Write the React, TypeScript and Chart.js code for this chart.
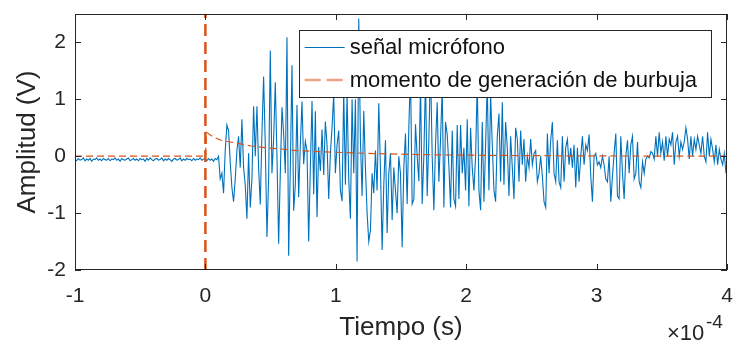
import React, { useEffect, useRef } from 'react';
import { Chart, registerables } from 'chart.js';

Chart.register(...registerables);

// time axis in units of 1e-4 s
const sampleStart = -1;
const sampleStep = 0.0128;

const preTriggerSignal = [
  -0.05, -0.08, -0.04, -0.07, -0.06, -0.03, -0.08, -0.05, -0.07, -0.04,
  -0.09, -0.05, -0.06, -0.03, -0.07, -0.05, -0.08, -0.04, -0.06, -0.07,
  -0.04, -0.08, -0.05, -0.06, -0.03, -0.07, -0.05, -0.09, -0.04, -0.06,
  -0.07, -0.05, -0.03, -0.08, -0.06, -0.04, -0.07, -0.05, -0.08, -0.04,
  -0.06, -0.05, -0.09, -0.04, -0.07, -0.03, -0.06, -0.08, -0.05, -0.04,
  -0.07, -0.06, -0.03, -0.08, -0.05, -0.07, -0.04, -0.06, -0.09, -0.05,
  -0.04, -0.07, -0.06, -0.03, -0.08, -0.05, -0.07, -0.04, -0.06, -0.05,
  -0.08, -0.04, -0.07, -0.05, -0.06, -0.03, -0.07, -0.05,
];

const postTriggerSignal = [
  -0.05, -0.08, -0.04, -0.07, -0.05, -0.09, -0.04, -0.06, 0.0, -0.4,
  -0.3, -0.65, 0.1, 0.55, 0.45, -0.1, -0.55, -0.8, -0.4, 0.1,
  0.35, -0.2, 0.65, -0.2, -0.5, -1.1, 0.05, -0.9, -0.4, 0.88,
  0.0, 0.88, -0.2, -0.85, 0.4, 1.4, 0.2, -1.42, -0.4, 1.86,
  -0.3, 0.3, 1.3, 0.0, -1.54, -0.3, 0.86, 0.4, -0.3, 2.09,
  -1.75, -0.2, 1.6, -0.96, -0.5, 0.9, -0.72, 0.2, 0.96, -0.14,
  0.26, 0.1, -1.5, -0.2, 0.97, -0.67, 0.79, -1.07, 0.16, -0.26,
  0.47, -0.33, 0.61, 0.2, -0.75, 0.05, 0.5, 1.09, -0.3, 0.2,
  0.45, -0.6, -0.79, 1.15, -0.5, 1.1, -0.4, -1.1, 1.0, -0.3,
  1.0, -1.85, 2.42, 0.3, -0.7, 0.8, -0.2, -1.0, -1.5, -1.3,
  -0.3, -0.65, 0.1, -0.6, 0.93, -0.2, -1.65, -0.5, 0.28, -1.35,
  -0.3, 0.05, -1.12, -0.2, -0.6, -1.0, 0.0, -0.3, -1.6, -0.2,
  0.4, -0.84, 0.5, 1.5, -0.84, -0.76, 0.56, 0.0, -0.44, 1.3,
  -0.84, 0.0, 1.4, -0.7, 0.3, 1.6, 0.0, -0.95, 0.2, 0.95,
  -0.45, 0.3, 1.2, -0.9, 0.6, 0.38, -0.17, -0.9, 0.45, -0.75,
  -0.88, 0.55, -0.75, 0.55, -0.3, 0.15, -0.6, 0.65, -0.88, 0.5,
  -0.2, -0.6, 0.0, 1.3, -0.6, -0.95, 0.6, -0.8, 0.2, 1.3,
  -0.6, 1.1, 0.2, -0.6, -0.8, 0.35, 0.75, -0.45, 0.95, -0.5,
  0.6, 0.15, -0.7, 0.35, -0.2, -0.75, 0.5, 0.3, -0.45, 0.45,
  -0.15, 0.3, -0.45, 0.0, -0.2, 0.3, -0.15, 0.05, 0.1, -0.45,
  -0.3, 0, -0.35, -0.8, -0.9, 0.4, -0.3, 0.28, 0.6, -0.3,
  -0.45, 0.28, -0.45, -0.55, 0.35, -0.45, 0.15, 0.3, -0.15, 0.15,
  -0.2, 0.2, -0.55, 0.15, -0.45, 0, 0.35, -0.15, 0.2, 0.1,
  0.38, -0.35, -0.8, 0, 0.05, -0.15, -0.1, -0.2, 0, -0.15,
  -0.4, -0.45, 0, -0.8, -0.35, 0.05, 0.4, -0.7, -0.75, 0.35,
  -0.3, -0.75, 0, 0.28, -0.3, 0.2, 0.35, -0.4,
  -0.3, 0.25, -0.45, -0.55, -0.1, -0.3, -0.05, 0, -0.03, 0.08,
  0.05, -0.05, 0.35, 0, 0.42, 0.05, 0.25, -0.08, 0.35, 0,
  0.3, 0.2, 0.42, -0.15, 0.25, 0.35, 0, 0.25, 0.12, 0.25,
  0.5, 0.3, -0.05, 0.35, 0, 0.3, 0.12, 0.35, 0.2, 0.05,
  0.35, 0, -0.1, 0.42, 0, 0.3, 0.12, -0.1, 0.2, -0.15,
  0.12, -0.05, -0.15, 0.05, -0.3, 0.1, 0.25,
];

const bubbleTime = [-1, 0, 0.01, 0.06, 0.12, 0.24, 0.35, 0.46, 0.56, 0.7, 0.87, 1.05, 1.25, 1.6, 1.93, 2.5, 3, 4];
const bubbleValue = [0, 0, 0.42, 0.34, 0.28, 0.23, 0.18, 0.15, 0.13, 0.1, 0.08, 0.065, 0.05, 0.03, 0.02, 0.01, 0.005, 0];

const markerTime = [0, 0];
const markerValue = [-2, 2.5];

const xTicks = [-1, 0, 1, 2, 3, 4];
const yTicks = [-2, -1, 0, 1, 2];
const seriesLabels = ['señal micrófono', 'momento de generación de burbuja'];
const xTitle = 'Tiempo (s)';
const yTitle = 'Amplitud (V)';

const BLUE = '#0072BD';
const ORANGE = '#D95319';
const AXIS = '#262626';
const FONT = '"Liberation Sans", Arial, Helvetica, sans-serif';

const matlabPlugin = {
  id: 'matlabDecor',
  afterDraw(chart: any) {
    const { ctx, chartArea: a, scales } = chart;
    ctx.save();
    ctx.strokeStyle = AXIS;
    ctx.lineWidth = 1;
    ctx.setLineDash([]);
    const line = (x1: number, y1: number, x2: number, y2: number) => {
      ctx.beginPath();
      ctx.moveTo(x1, y1);
      ctx.lineTo(x2, y2);
      ctx.stroke();
    };
    const tl = 6;
    xTicks.forEach((v) => {
      const px = Math.round(scales.x.getPixelForValue(v)) + 0.5;
      line(px, a.bottom, px, a.bottom - tl);
      line(px, a.top, px, a.top + tl);
    });
    yTicks.forEach((v) => {
      const py = Math.round(scales.y.getPixelForValue(v)) + 0.5;
      line(a.left, py, a.left + tl, py);
      line(a.right, py, a.right - tl, py);
    });
    ctx.strokeRect(a.left + 0.5, a.top + 0.5, a.right - a.left - 1, a.bottom - a.top - 1);

    // exponent label
    ctx.fillStyle = AXIS;
    ctx.textBaseline = 'alphabetic';
    ctx.textAlign = 'left';
    ctx.font = `22px ${FONT}`;
    ctx.fillText('\u00d710', 667, 340);
    ctx.font = `19px ${FONT}`;
    ctx.fillText('-4', 706, 328);

    // legend
    ctx.font = `22px ${FONT}`;
    const tw = Math.max(...seriesLabels.map((s) => ctx.measureText(s).width));
    const w = 51 + tw + 14;
    const h = 67;
    const lx = a.right - 16 - w;
    const ly = a.top + 16;
    ctx.fillStyle = '#ffffff';
    ctx.fillRect(lx, ly, w, h);
    ctx.strokeStyle = AXIS;
    ctx.strokeRect(Math.round(lx) + 0.5, ly + 0.5, Math.round(w), h);
    const r1 = ly + 17;
    const r2 = ly + 50;
    ctx.strokeStyle = BLUE;
    ctx.lineWidth = 1.2;
    line(lx + 6, r1 + 0.5, lx + 46, r1 + 0.5);
    ctx.strokeStyle = '#EFA386';
    ctx.lineWidth = 2.5;
    ctx.setLineDash([16, 6]);
    line(lx + 6, r2, lx + 46, r2);
    ctx.setLineDash([]);
    ctx.fillStyle = '#111111';
    ctx.textBaseline = 'middle';
    ctx.fillText(seriesLabels[0], lx + 51, r1 + 1);
    ctx.fillText(seriesLabels[1], lx + 51, r2 + 1);
    ctx.restore();
  },
};

const fitX = (s: any) => {
  s.height = 75;
  s.paddingLeft = 0;
  s.paddingRight = 0;
  s.paddingTop = 0;
  s.paddingBottom = 0;
};
const fitY = (s: any) => {
  s.width = 75;
  s.paddingLeft = 0;
  s.paddingRight = 0;
  s.paddingTop = 0;
  s.paddingBottom = 0;
};

export default function App() {
  const ref = useRef<HTMLCanvasElement | null>(null);

  useEffect(() => {
    document.body.style.margin = '0';
    const canvas = ref.current;
    if (!canvas) return;
    const signalValue = [...preTriggerSignal, ...postTriggerSignal];
    const signalPoints = signalValue.map((v, i) => ({ x: sampleStart + i * sampleStep, y: v }));
    const bubblePoints = bubbleTime.map((t, i) => ({ x: t, y: bubbleValue[i] }));
    const markerPoints = markerTime.map((t, i) => ({ x: t, y: markerValue[i] }));

    const chart = new Chart(canvas, {
      type: 'scatter',
      data: {
        datasets: [
          {
            label: seriesLabels[1],
            data: markerPoints,
            showLine: true,
            borderColor: ORANGE,
            borderWidth: 2.5,
            borderDash: [12, 6],
            pointRadius: 0,
            order: 0,
          },
          {
            label: seriesLabels[1] + ' ',
            data: bubblePoints,
            showLine: true,
            borderColor: ORANGE,
            borderWidth: 1.2,
            borderDash: [7, 4],
            pointRadius: 0,
            order: 1,
          },
          {
            label: seriesLabels[0],
            data: signalPoints,
            showLine: true,
            borderColor: BLUE,
            borderWidth: 1.1,
            pointRadius: 0,
            order: 2,
          },
        ],
      },
      options: {
        responsive: false,
        animation: false,
        devicePixelRatio: 1,
        layout: { padding: { top: 14, right: 10, left: 0, bottom: 0 } },
        plugins: { legend: { display: false }, tooltip: { enabled: false } },
        scales: {
          x: {
            type: 'linear',
            min: -1,
            max: 4,
            afterFit: fitX,
            grid: { display: false, drawTicks: false },
            border: { display: false },
            ticks: {
              stepSize: 1,
              includeBounds: false,
              padding: 14,
              color: AXIS,
              font: { family: FONT, size: 21 },
              maxRotation: 0,
            },
            title: {
              display: true,
              text: xTitle,
              color: AXIS,
              font: { family: FONT, size: 26 },
              padding: { top: 0, bottom: 2 },
            },
          },
          y: {
            type: 'linear',
            min: -2,
            max: 2.5,
            afterFit: fitY,
            grid: { display: false, drawTicks: false },
            border: { display: false },
            ticks: {
              stepSize: 1,
              includeBounds: false,
              padding: 9,
              color: AXIS,
              font: { family: FONT, size: 21 },
            },
            title: {
              display: true,
              text: yTitle,
              color: AXIS,
              font: { family: FONT, size: 26 },
              padding: { top: 12, bottom: 0 },
            },
          },
        },
      },
      plugins: [matlabPlugin],
    });
    return () => chart.destroy();
  }, []);

  return (
    <div style={{ width: 737, height: 345 }}>
      <canvas ref={ref} width={737} height={345} style={{ display: 'block' }} />
    </div>
  );
}
